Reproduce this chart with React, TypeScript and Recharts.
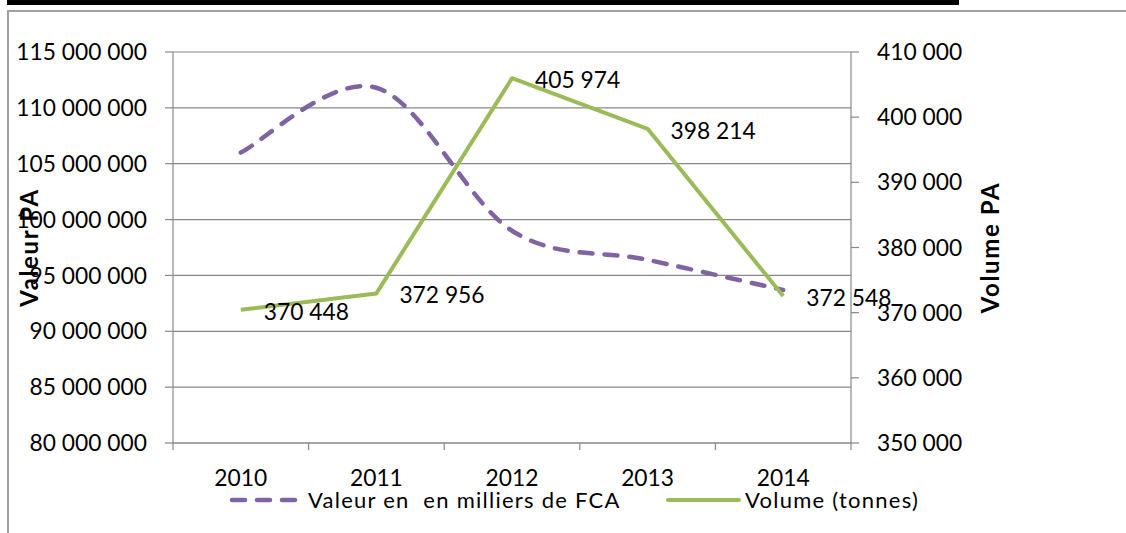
import React from 'react';
import {
  LineChart, Line, XAxis, YAxis, CartesianGrid, Legend, LabelList,
} from 'recharts';

const years = ['2010', '2011', '2012', '2013', '2014'];
const valeurSeries = [106000000, 111800000, 99000000, 96400000, 93700000];
const volumeSeries = [370448, 372956, 405974, 398214, 372548];
const leftTicks = [80000000, 85000000, 90000000, 95000000, 100000000, 105000000, 110000000, 115000000];
const rightTicks = [350000, 360000, 370000, 380000, 390000, 400000, 410000];
const valeurName = 'Valeur en  en milliers de FCA';
const volumeName = 'Volume (tonnes)';

const data = years.map((y, i) => ({ year: y, valeur: valeurSeries[i], volume: volumeSeries[i] }));

const FONT = 'Lato, "Open Sans", sans-serif';
const FS = 22.8;
const AXIS = '#888888';
const PURPLE = '#8064A2';
const GREEN = '#9BBB59';

const W = 1126;
const H = 533;
const LEFT_W = 173;
const RIGHT_W = 275;
const TOP = 52;
const XAXIS_H = 90;
const BAND = (W - LEFT_W - RIGHT_W) / years.length;

const fmt = (n: number) => String(n).replace(/\B(?=(\d{3})+(?!\d))/g, ' ');

// Excel-like smoothing (Catmull-Rom through points)
const excelCurve: any = (context: any) => {
  let pts: number[][] = [];
  return {
    areaStart() {},
    areaEnd() {},
    lineStart() { pts = []; },
    point(x: number, y: number) { pts.push([+x, +y]); },
    lineEnd() {
      if (!pts.length) return;
      context.moveTo(pts[0][0], pts[0][1]);
      for (let i = 0; i < pts.length - 1; i++) {
        const p0 = pts[i - 1] || pts[i];
        const p1 = pts[i];
        const p2 = pts[i + 1];
        const p3 = pts[i + 2] || pts[i + 1];
        context.bezierCurveTo(
          p1[0] + (p2[0] - p0[0]) / 6, p1[1] + (p2[1] - p0[1]) / 6,
          p2[0] - (p3[0] - p1[0]) / 6, p2[1] - (p3[1] - p1[1]) / 6,
          p2[0], p2[1],
        );
      }
    },
  };
};

const YearTick = (props: any) => {
  const { x, y, payload, index, visibleTicksCount } = props;
  const half = BAND / 2;
  return (
    <g>
      <line x1={x - half} x2={x - half} y1={y} y2={y + 7} stroke={AXIS} strokeWidth={1.2} />
      {index === visibleTicksCount - 1 && (
        <line x1={x + half} x2={x + half} y1={y} y2={y + 7} stroke={AXIS} strokeWidth={1.2} />
      )}
      <text x={x} y={y + 43} textAnchor="middle" fontFamily={FONT} fontSize={FS} fill="#000">
        {payload.value}
      </text>
    </g>
  );
};

const VolumeLabel = (props: any) => {
  const { x, y, value } = props;
  return (
    <text x={x + 23} y={y + 10} textAnchor="start" fontFamily={FONT} fontSize={FS} fill="#000">
      {fmt(value)}
    </text>
  );
};

const AxisTitle = (offsetX: number) => (props: any) => {
  const vb = props.viewBox || {};
  const cx = vb.x + offsetX;
  const cy = vb.y + vb.height / 2;
  return (
    <text
      x={cx}
      y={cy}
      transform={`rotate(-90 ${cx} ${cy})`}
      textAnchor="middle"
      dominantBaseline="central"
      fontFamily={FONT}
      fontWeight="bold"
      fontSize={24}
      letterSpacing={1.6}
      fill="#000"
    >
      {props.value}
    </text>
  );
};

const renderLegend = (props: any) => {
  const payload = props.payload || [];
  const find = (k: string) => payload.find((p: any) => p.dataKey === k) || {};
  const v = find('valeur');
  const g = find('volume');
  const textStyle: React.CSSProperties = { position: 'absolute', top: 0, whiteSpace: 'pre', letterSpacing: '1.25px' };
  return (
    <div style={{ position: 'relative', width: W, height: 26, fontFamily: FONT, fontSize: 22, lineHeight: '26px', color: '#000' }}>
      <svg style={{ position: 'absolute', left: 226, top: 7 }} width={76} height={12}>
        <line x1={6} y1={6} x2={70} y2={6} stroke={PURPLE} strokeWidth={4.5} strokeDasharray="13 12" strokeLinecap="round" />
      </svg>
      <span style={{ ...textStyle, left: 308 }}>{v.value ?? valeurName}</span>
      <svg style={{ position: 'absolute', left: 664, top: 7 }} width={80} height={12}>
        <line x1={4} y1={6} x2={75} y2={6} stroke={GREEN} strokeWidth={4} strokeLinecap="round" />
      </svg>
      <span style={{ ...textStyle, left: 745 }}>{g.value ?? volumeName}</span>
    </div>
  );
};

export default function App() {
  return (
    <div style={{ position: 'absolute', left: 0, top: 0, width: W, height: H, background: '#fff', overflow: 'hidden' }}>
      <div style={{ position: 'absolute', left: 7, top: 0, width: 952, height: 5, background: '#000' }} />
      <div style={{ position: 'absolute', left: 7, top: 10, width: W, height: H, borderTop: '2px solid #a0a0a0', borderLeft: '2px solid #a0a0a0' }} />
      <div style={{ position: 'absolute', left: 0, top: 0 }}>
        <LineChart width={W} height={H} data={data} margin={{ top: TOP, right: 0, bottom: 0, left: 0 }}>
          <CartesianGrid yAxisId="left" vertical={false} stroke={AXIS} strokeWidth={1.2} />
          <XAxis
            dataKey="year"
            height={XAXIS_H}
            padding={{ left: BAND / 2, right: BAND / 2 }}
            axisLine={{ stroke: AXIS, strokeWidth: 1.2 }}
            tickLine={false}
            tickSize={0}
            tickMargin={0}
            tick={<YearTick />}
            interval={0}
          />
          <YAxis
            yAxisId="left"
            orientation="left"
            width={LEFT_W}
            domain={[leftTicks[0], leftTicks[leftTicks.length - 1]]}
            ticks={leftTicks}
            tickFormatter={fmt}
            axisLine={{ stroke: AXIS, strokeWidth: 1.2 }}
            tickLine={{ stroke: AXIS, strokeWidth: 1.2 }}
            tickSize={8}
            tickMargin={18}
            tick={{ fill: '#000', fontFamily: FONT, fontSize: FS }}
            interval={0}
            label={{ value: 'Valeur PA', content: AxisTitle(28) }}
          />
          <YAxis
            yAxisId="right"
            orientation="right"
            width={RIGHT_W}
            domain={[rightTicks[0], rightTicks[rightTicks.length - 1]]}
            ticks={rightTicks}
            tickFormatter={fmt}
            axisLine={{ stroke: AXIS, strokeWidth: 1.2 }}
            tickLine={{ stroke: AXIS, strokeWidth: 1.2 }}
            tickSize={8}
            tickMargin={18}
            tick={{ fill: '#000', fontFamily: FONT, fontSize: FS, textAnchor: 'start' }}
            interval={0}
            label={{ value: 'Volume PA', content: AxisTitle(138) }}
          />
          <Legend
            layout="horizontal"
            verticalAlign="middle"
            align="center"
            wrapperStyle={{ top: 487, left: 0, width: W, height: 26 }}
            content={renderLegend}
          />
          <Line
            yAxisId="left"
            name={valeurName}
            dataKey="valeur"
            type={excelCurve}
            stroke={PURPLE}
            strokeWidth={4.5}
            strokeDasharray="13 12"
            strokeLinecap="round"
            dot={false}
            activeDot={false}
            isAnimationActive={false}
          />
          <Line
            yAxisId="right"
            name={volumeName}
            dataKey="volume"
            type="linear"
            stroke={GREEN}
            strokeWidth={4}
            strokeLinejoin="round"
            dot={false}
            activeDot={false}
            isAnimationActive={false}
          >
            <LabelList dataKey="volume" content={<VolumeLabel />} />
          </Line>
        </LineChart>
      </div>
    </div>
  );
}
